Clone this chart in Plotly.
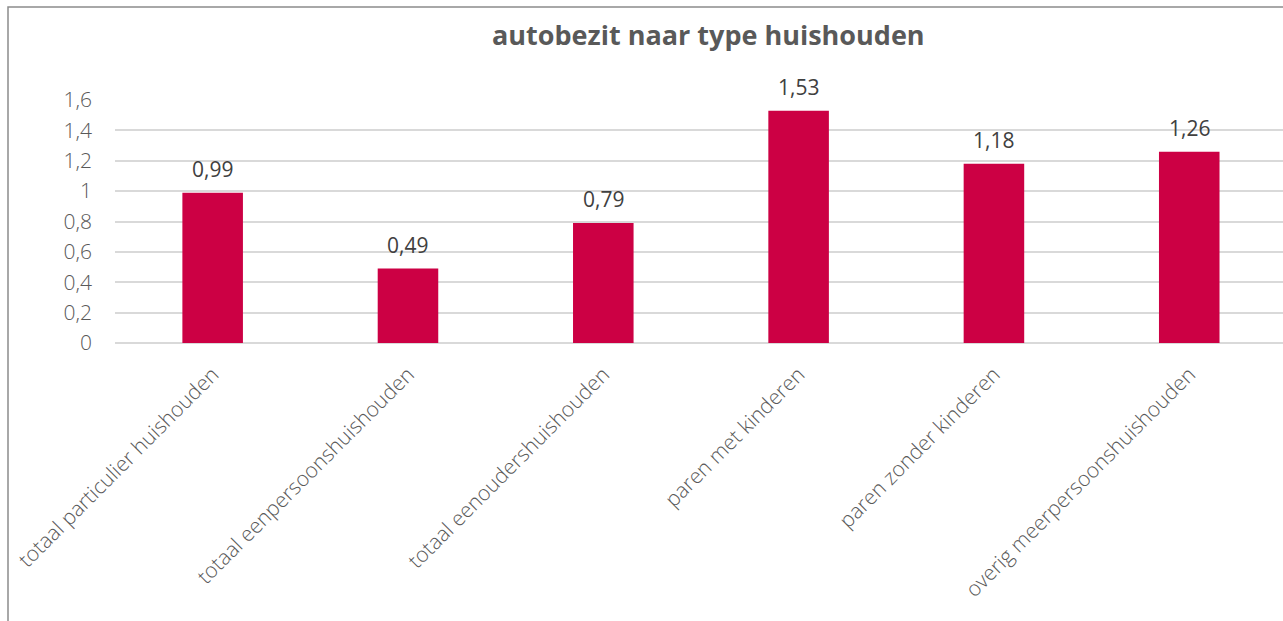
import plotly.graph_objects as go

# Car ownership per household type
categories = [
    "totaal particulier huishouden",
    "totaal eenpersoonshuishouden",
    "totaal eenoudershuishouden",
    "paren met kinderen",
    "paren zonder kinderen",
    "overig meerpersoonshuishouden",
]
values = [0.99, 0.49, 0.79, 1.53, 1.18, 1.26]
title_text = "autobezit naar type huishouden"

W, H = 1283, 621
ML, MR, MT, MB = 115, 0, 100, 278
plot_w = W - ML - MR
plot_h = H - MT - MB


def px_x(px):
    return (px - ML) / plot_w


def px_y(py):
    return 1 + (MT - py) / plot_h


fig = go.Figure(
    go.Bar(
        x=categories,
        y=values,
        marker=dict(color="#CC0044", line=dict(width=0)),
        width=0.31,
        hoverinfo="x+y",
    )
)

# value labels above each bar
for cat, v in zip(categories, values):
    fig.add_annotation(
        x=cat, y=v, xref="x", yref="y",
        text=f"{v:.2f}".replace(".", ","),
        showarrow=False, yanchor="bottom", yshift=8,
        font=dict(family="Open Sans", size=21, color="#404040"),
    )

# chart title
fig.add_annotation(
    x=px_x(708), y=px_y(34), xref="paper", yref="paper",
    text=f"<b>{title_text}</b>", showarrow=False,
    xanchor="center", yanchor="middle",
    font=dict(family="Open Sans", size=27, color="#595959"),
)

# outer chart frame
fig.add_shape(
    type="rect", xref="paper", yref="paper",
    x0=px_x(8), x1=px_x(W + 20), y0=px_y(H + 20), y1=px_y(7),
    line=dict(color="#8C8C8C", width=1.5), fillcolor="rgba(0,0,0,0)",
    layer="below",
)

fig.update_layout(
    width=W, height=H,
    margin=dict(l=ML, r=MR, t=MT, b=MB, pad=0),
    paper_bgcolor="white", plot_bgcolor="white",
    separators=",.",
    showlegend=False,
    bargap=0.69,
    xaxis=dict(
        type="category",
        range=[-0.5, 5.48],
        tickangle=-45,
        showgrid=False, showline=False, ticks="",
        ticklabelstandoff=14,
        tickfont=dict(family="Open Sans", size=21, color="#595959", weight=300),
    ),
    yaxis=dict(
        range=[0, 1.6], dtick=0.2, tick0=0,
        showgrid=True, gridcolor="#D9D9D9", gridwidth=1.5,
        zeroline=True, zerolinecolor="#D9D9D9", zerolinewidth=1.5,
        showline=False, ticks="",
        ticklabelstandoff=22,
        tickfont=dict(family="Open Sans", size=21, color="#595959", weight=300),
    ),
)

fig.write_html("out.html")
